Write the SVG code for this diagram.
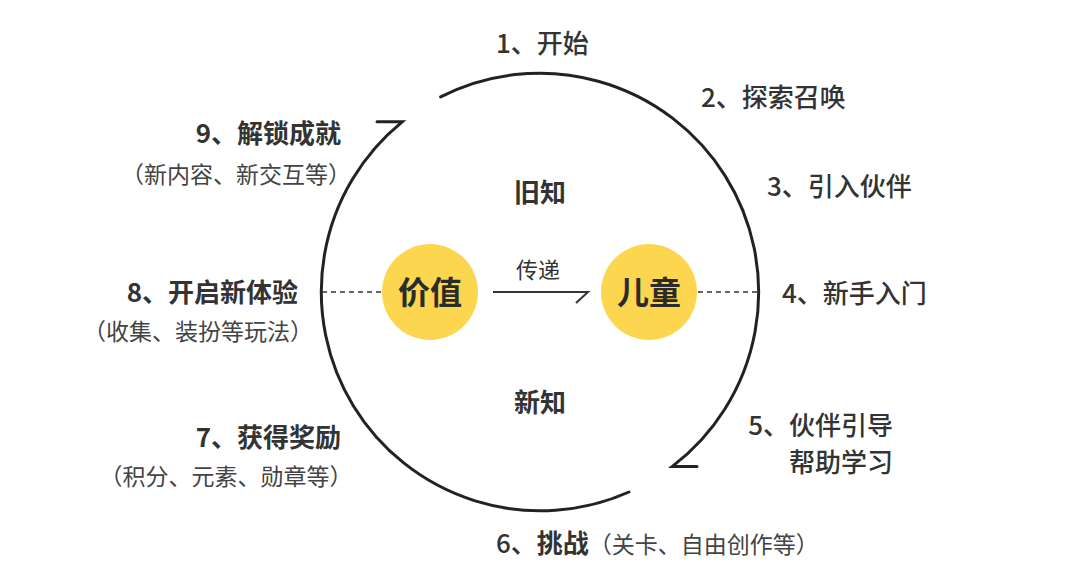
<svg xmlns="http://www.w3.org/2000/svg" width="1080" height="584" viewBox="0 0 1080 584">
<style>
text{font-family:"Noto Sans CJK SC","Noto Sans",sans-serif;fill:#333;}
.lbl{font-size:26px;font-weight:500;}
.bold{font-size:26px;font-weight:700;}
.sub{font-size:23px;font-weight:400;fill:#444;}
.core{font-size:32px;font-weight:700;fill:#2b2b2b;}
.ring{fill:none;stroke:#222;stroke-width:3;stroke-linecap:round;}
.dash{fill:none;stroke:#333;stroke-width:1.5;stroke-dasharray:5 4;}
.arrow{fill:none;stroke:#333;stroke-width:2;}
.dot{fill:#FDD650;}
</style>
<rect width="1080" height="584" fill="#fff"/>
<g id="connectors">
<path class="ring" d="M440.6,96.9 A219,219 0 0 1 672.4,466.4 L697,466.4"/>
<path class="ring" d="M629,492 A219,219 0 0 1 402.2,121.8 L377,121.8"/>
<line class="dash" x1="322" y1="292" x2="382" y2="292"/>
<line class="dash" x1="698" y1="292" x2="758" y2="292"/>
<path class="arrow" d="M493,292 L588,292 L576,303"/>
<text x="538" y="278" text-anchor="middle" class="sub" style="fill:#333;font-size:22px">传递</text>
</g>
<g id="node-value">
<circle class="dot" cx="430" cy="292" r="48"/>
<text x="430" y="304" text-anchor="middle" class="core">价值</text>
</g>
<g id="node-child">
<circle class="dot" cx="649" cy="292" r="48"/>
<text x="649" y="304" text-anchor="middle" class="core">儿童</text>
</g>
<g id="old-knowledge"><text x="540" y="202" text-anchor="middle" class="bold">旧知</text></g>
<g id="new-knowledge"><text x="540" y="412" text-anchor="middle" class="bold">新知</text></g>
<g id="step1"><text x="496" y="53" class="lbl">1、开始</text></g>
<g id="step2"><text x="701" y="107" class="lbl">2、探索召唤</text></g>
<g id="step3"><text x="767" y="196" class="lbl">3、引入伙伴</text></g>
<g id="step4"><text x="782" y="303" class="lbl">4、新手入门</text></g>
<g id="step5">
<text x="893" y="435" text-anchor="end" class="lbl">5、伙伴引导</text>
<text x="893" y="472" text-anchor="end" class="lbl">帮助学习</text>
</g>
<g id="step6"><text x="496" y="553" class="lbl">6、<tspan font-weight="700">挑战</tspan><tspan class="sub">（关卡、自由创作等）</tspan></text></g>
<g id="step7">
<text x="341" y="447" text-anchor="end" class="bold">7、获得奖励</text>
<text x="226" y="485" text-anchor="middle" class="sub">（积分、元素、勋章等）</text>
</g>
<g id="step8">
<text x="298" y="302" text-anchor="end" class="bold">8、开启新体验</text>
<text x="198" y="340" text-anchor="middle" class="sub">（收集、装扮等玩法）</text>
</g>
<g id="step9">
<text x="341" y="143" text-anchor="end" class="bold">9、解锁成就</text>
<text x="236" y="183" text-anchor="middle" class="sub">（新内容、新交互等）</text>
</g>
</svg>
